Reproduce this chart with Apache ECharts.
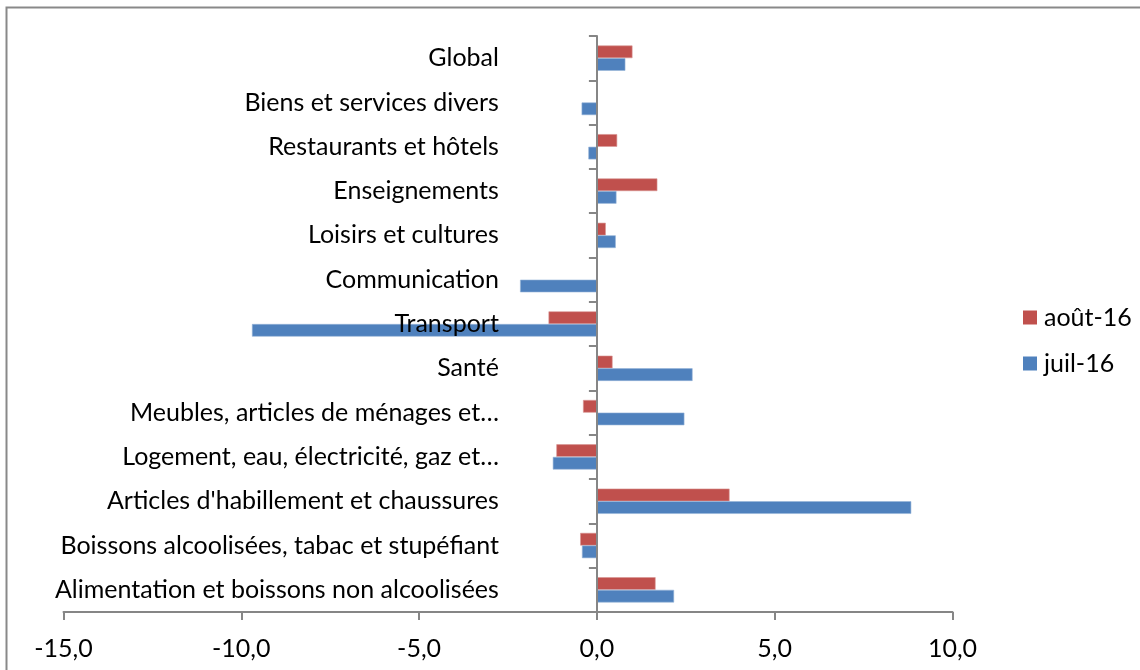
<!DOCTYPE html>
<html>
<head>
<meta charset="utf-8">
<script src="https://cdn.jsdelivr.net/npm/echarts@6/dist/echarts.min.js"></script>
<style>
  html, body { margin: 0; padding: 0; background: #fff; }
  #main { width: 1140px; height: 670px; }
</style>
</head>
<body>
<div id="main"></div>
<script>
// catégories, du bas vers le haut (comme Excel)
var categories = [
  'Alimentation et boissons non alcoolisées',
  'Boissons alcoolisées, tabac et stupéfiant',
  "Articles d'habillement et chaussures",
  'Logement, eau, électricité, gaz et…',
  'Meubles, articles de ménages et…',
  'Santé',
  'Transport',
  'Communication',
  'Loisirs et cultures',
  'Enseignements',
  'Restaurants et hôtels',
  'Biens et services divers',
  'Global'
];
var seriesNames = ['août-16', 'juil-16'];
var aout16 = [1.65, -0.47, 3.73, -1.14, -0.39, 0.44, -1.36, 0, 0.25, 1.70, 0.57, 0, 1.00];
var juil16 = [2.17, -0.42, 8.84, -1.24, 2.46, 2.69, -9.70, -2.16, 0.53, 0.55, -0.24, -0.43, 0.80];
var xTicks = [-15, -10, -5, 0, 5, 10];

var FONT = 'Lato';
var FS = 25;
var axisGray = '#868686';
var gridLeft = 63.5, gridRight = 187.5;
var plotW = 1140 - gridLeft - gridRight;
// position en px du zéro, pour y placer l'axe des catégories
var zeroX = gridLeft + plotW * (0 - xTicks[0]) / (xTicks[xTicks.length - 1] - xTicks[0]);

var myChart = echarts.init(document.getElementById('main'));

myChart.setOption({
  animation: false,
  backgroundColor: '#fff',
  textStyle: { fontFamily: FONT },
  grid: {
    left: gridLeft, right: gridRight, top: 36, bottom: 58,
    containLabel: false,
    outerBoundsMode: 'none'
  },
  legend: {
    orient: 'vertical',
    left: 1018,
    top: 300,
    itemWidth: 14,
    itemHeight: 14,
    itemGap: 21,
    icon: 'rect',
    data: seriesNames,
    itemStyle: { borderWidth: 0 },
    textStyle: { fontSize: FS, color: '#000', fontFamily: FONT, padding: [0, 0, 0, 2] }
  },
  xAxis: {
    type: 'value',
    min: xTicks[0],
    max: xTicks[xTicks.length - 1],
    interval: 5,
    splitLine: { show: false },
    axisLine: { show: true, lineStyle: { color: axisGray, width: 2 } },
    axisTick: { show: true, length: 8, lineStyle: { color: axisGray, width: 2 } },
    axisLabel: {
      margin: 24,
      fontSize: FS,
      color: '#000',
      fontFamily: FONT,
      formatter: function (v) { return v.toFixed(1).replace('.', ','); }
    }
  },
  yAxis: {
    type: 'category',
    data: categories,
    position: 'left',
    offset: -(zeroX - gridLeft), // ramène l'axe sur x = 0
    z: 10,
    axisLine: { show: true, onZero: false, lineStyle: { color: axisGray, width: 2 } },
    axisTick: { show: true, length: 8, lineStyle: { color: axisGray, width: 2 } },
    axisLabel: { margin: 98, fontSize: FS, color: '#000', fontFamily: FONT }
  },
  series: [
    {
      name: seriesNames[0],
      type: 'bar',
      data: aout16,
      barGap: '0%',
      barCategoryGap: '43%',
      itemStyle: { color: '#C0504D', borderColor: '#D99694', borderWidth: 0.6 }
    },
    {
      name: seriesNames[1],
      type: 'bar',
      data: juil16,
      barGap: '0%',
      barCategoryGap: '43%',
      itemStyle: { color: '#4F81BD', borderColor: '#95B3D7', borderWidth: 0.6 }
    }
  ],
  graphic: [
    { // cadre du graphique
      type: 'rect',
      silent: true,
      shape: { x: 6.5, y: 7.5, width: 1200, height: 700 },
      style: { fill: 'none', stroke: '#898989', lineWidth: 2 }
    }
  ]
});
</script>
</body>
</html>
